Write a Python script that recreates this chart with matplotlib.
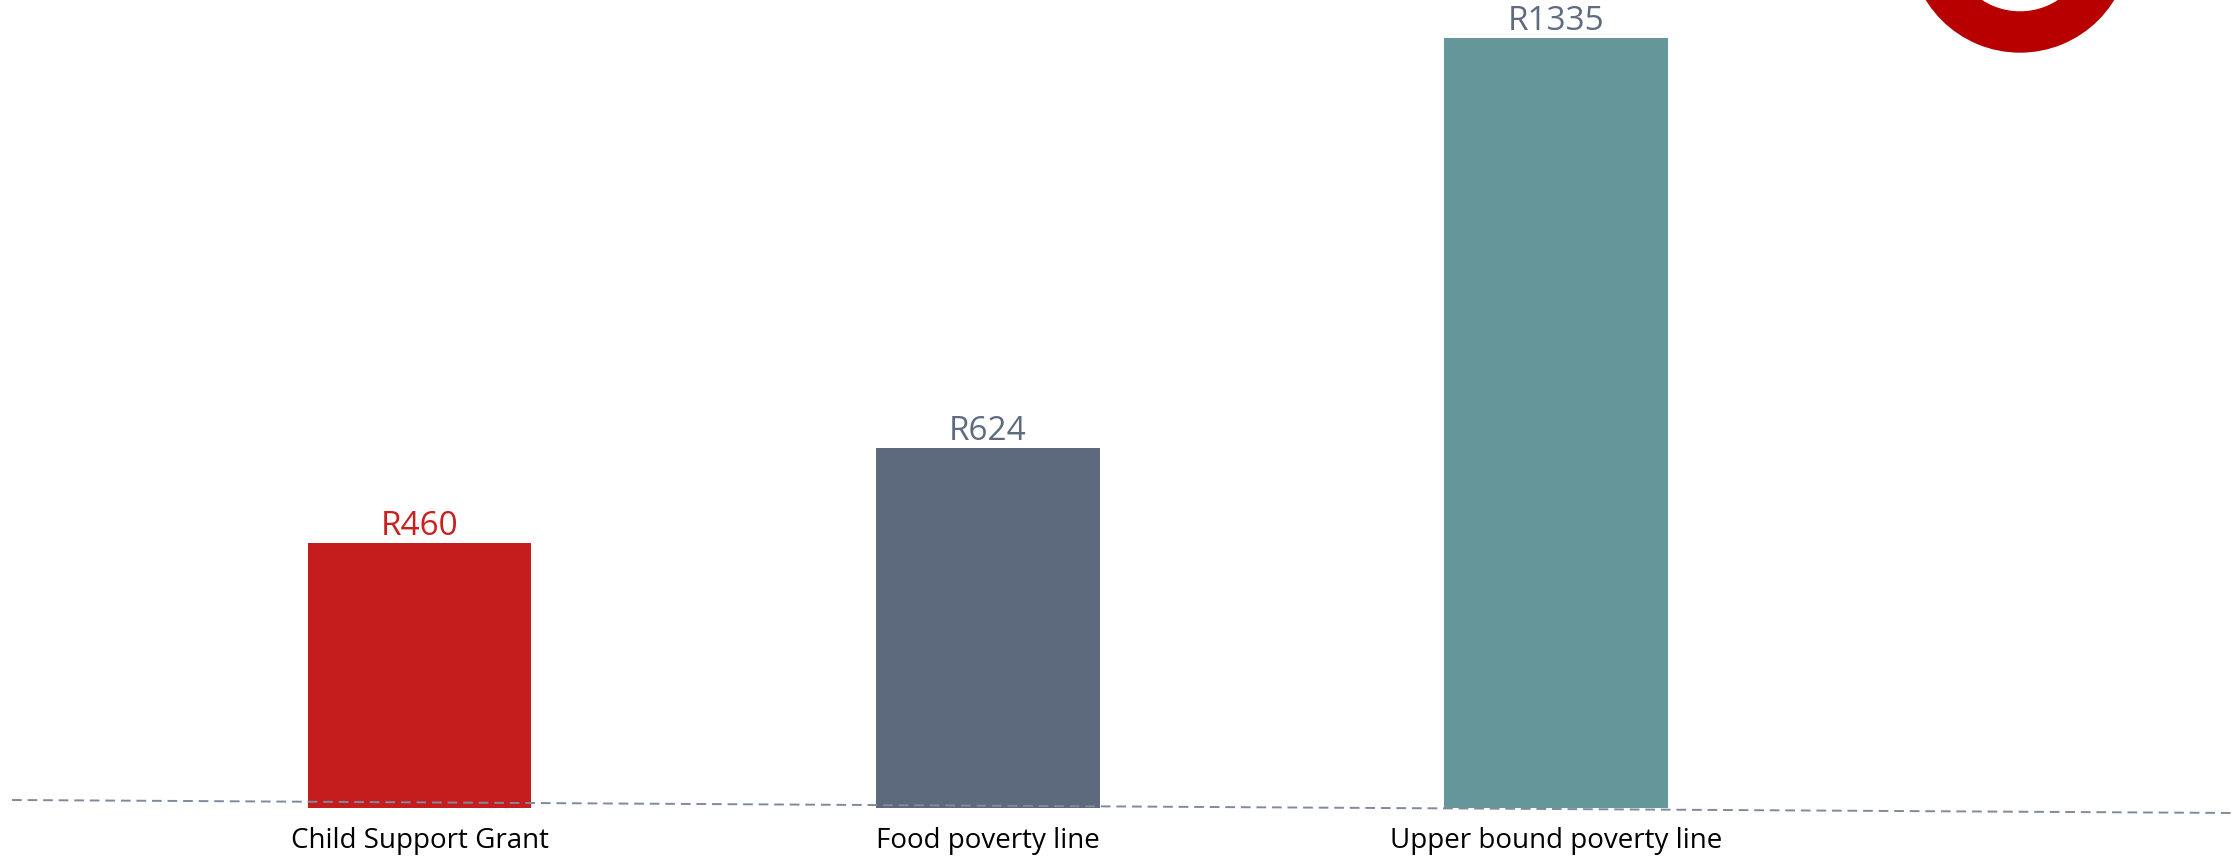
import matplotlib.pyplot as plt
from matplotlib.lines import Line2D
from matplotlib.patches import Annulus

categories = ["Child Support Grant", "Food poverty line", "Upper bound poverty line"]
values = [460, 624, 1335]
value_labels = ["R460", "R624", "R1335"]

bar_colors = ["#C51C1D", "#5D6A7D", "#659699"]
label_colors = ["#C8201F", "#5E6B80", "#5E6B80"]

plt.rcParams["font.family"] = ["Open Sans", "DejaVu Sans"]

W, H = 2236, 857
fig = plt.figure(figsize=(W / 100, H / 100), dpi=100)
fig.patch.set_facecolor("white")

# axes spans the full width; y=0 sits a little above the category labels
base_px = 808
ax = fig.add_axes([0, (H - base_px) / H, 1, base_px / H])
ax.set_facecolor("none")

x = list(range(len(categories)))
ax.set_xlim(-0.739, 3.197)
ax.set_ylim(0, 1400)

bars = ax.bar(x, values, width=0.393, color=bar_colors, zorder=2)

for bar, txt, col in zip(bars, value_labels, label_colors):
    ax.annotate(txt, (bar.get_x() + bar.get_width() / 2, bar.get_height()),
                xytext=(0, 0), textcoords="offset points",
                ha="center", va="bottom", fontsize=24, color=col, zorder=3)

for xi, cat in zip(x, categories):
    ax.annotate(cat, (xi, 0), xytext=(0, -14), textcoords="offset points",
                ha="center", va="top", fontsize=20, color="black")

ax.axis("off")

# slightly tilted dashed baseline drawn in figure pixels
px = fig.dpi_scale_trans
line = Line2D([12 / 100, W / 100], [(H - 800) / 100, (H - 813) / 100],
              transform=px, color="#7F8A9C", lw=1.4, linestyle=(0, (5, 3)),
              zorder=1)
fig.add_artist(line)

# red ring peeking in at the top right
ring = Annulus((2020 / 100, (H + 58) / 100), 1.10, 0.40, transform=px,
               color="#B80000", zorder=1)
fig.add_artist(ring)

fig.savefig("out.png", dpi=100, facecolor="white")
